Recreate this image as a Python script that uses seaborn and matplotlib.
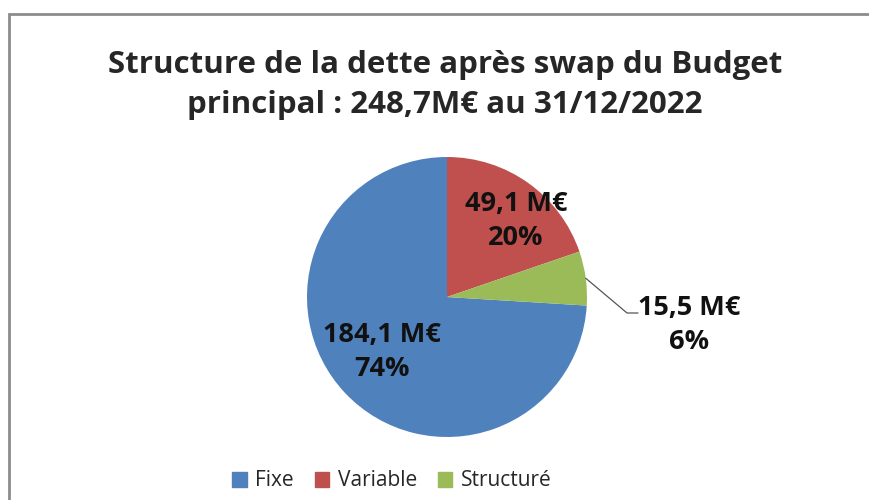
import numpy as np
import seaborn as sns
import matplotlib.pyplot as plt
from matplotlib.patches import Rectangle

# data
categories = ["Fixe", "Variable", "Structuré"]
montants = [184.1, 49.1, 15.5]          # M€
pourcentages = ["74%", "20%", "6%"]
montant_labels = ["184,1 M€", "49,1 M€", "15,5 M€"]
colors = ["#4F81BD", "#C0504D", "#9BBB59"]

sns.set_theme(style="white")
plt.rcParams["font.family"] = ["Open Sans", "DejaVu Sans"]

fig = plt.figure(figsize=(8.69, 5), dpi=100)
ax = fig.add_axes([0, 0, 1, 1])

total = sum(montants)
# Fixe ends at 12 o'clock, the other slices follow clockwise
start = 90 - 360 * (total - montants[0]) / total
cx, cy, r = 447, 203, 140
wedges, _ = ax.pie(montants, colors=colors, startangle=start, counterclock=False,
                   center=(cx, cy), radius=r, frame=True,
                   wedgeprops=dict(linewidth=0))
ax.set_xlim(0, 869)
ax.set_ylim(0, 500)
ax.set_aspect("equal")
ax.axis("off")

lbl = dict(ha="center", va="center", fontsize=19.5, fontweight="bold",
           linespacing=1.4, color="#111111")

# inside labels
ax.text(cx - 65, cy - 55, montant_labels[0] + "\n" + pourcentages[0], **lbl)
ax.text(cx + 69, cy + 76, montant_labels[1] + "\n" + pourcentages[1], **lbl)

# outside label with leader line
a = np.deg2rad((wedges[2].theta1 + wedges[2].theta2) / 2)
ax.plot([cx + np.cos(a) * r, 627, 638], [cy + np.sin(a) * r, 187, 187],
        color="#555555", lw=0.9)
ax.text(689, 175, montant_labels[2] + "\n" + pourcentages[2], **lbl)

fig.text(0.512, 0.83, "Structure de la dette après swap du Budget\nprincipal : 248,7M€ au 31/12/2022",
         ha="center", va="center", fontsize=22.5, fontweight="bold", linespacing=1.4)

handles = [Rectangle((0, 0), 1, 1, color=c) for c in colors]
fig.legend(handles, categories, loc="center", bbox_to_anchor=(392 / 869, 19 / 500),
           ncol=3, frameon=False, fontsize=15, handlelength=0.7, handleheight=0.7,
           handletextpad=0.4, columnspacing=1.0)

# chart frame
fig.patches.append(Rectangle((9 / 869, -0.05), 1.0, (500 - 14) / 500 + 0.05,
                             transform=fig.transFigure, fill=False,
                             edgecolor="#8c8c8c", lw=2))

fig.savefig("out.png", dpi=100)
